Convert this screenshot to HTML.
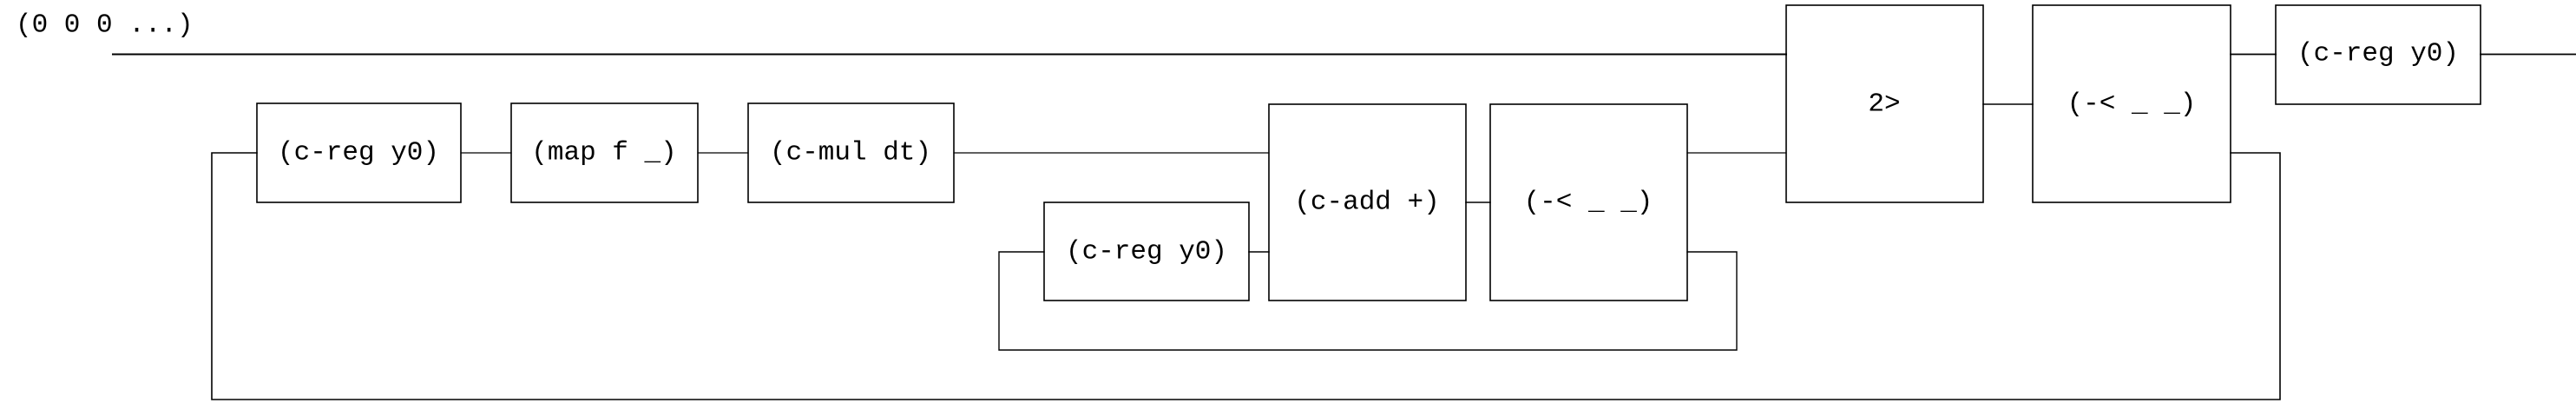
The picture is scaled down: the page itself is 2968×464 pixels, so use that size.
<!DOCTYPE html>
<html><head><meta charset="utf-8"><style>
html,body{margin:0;padding:0;background:#fff;}
svg{display:block;}
text{font-family:"Liberation Mono","DejaVu Sans Mono",monospace;font-size:31px;fill:#000;}
</style></head><body>
<svg width="2968" height="464" viewBox="0 0 2968 464" xmlns="http://www.w3.org/2000/svg">
<g fill="none" stroke="#000" stroke-linecap="square">
<!-- top main line -->
<path d="M130 62.5 H2058" stroke-width="2"/>
<!-- middle chain line -->
<path d="M531 176 H589 M804 176 H862 M1099 176 H1462" stroke-width="1.2"/>
<path d="M1944 176 H2058" stroke-width="1.2"/>
<!-- outer loop -->
<path d="M296 176 H244 V460 H2627 V176 H2570" stroke-width="1.6"/>
<!-- inner loop -->
<path d="M1203 290 H1151 V403 H2001 V290 H1944" stroke-width="1.4"/>
<path d="M1439 290 H1462" stroke-width="1.6"/>
<path d="M1689 233 H1717" stroke-width="1.6"/>
<path d="M2285 120 H2342" stroke-width="1.6"/>
<path d="M2570 62.5 H2622 M2858 62.5 H2968" stroke-width="1.8"/>
<!-- boxes -->
<g stroke-width="1.6">
<rect x="296" y="119" width="235" height="114"/>
<rect x="589" y="119" width="215" height="114"/>
<rect x="862" y="119" width="237" height="114"/>
<rect x="1203" y="233" width="236" height="113"/>
<rect x="1462" y="120" width="227" height="226"/>
<rect x="1717" y="120" width="227" height="226"/>
<rect x="2058" y="6" width="227" height="227"/>
<rect x="2342" y="6" width="228" height="227"/>
<rect x="2622" y="6" width="236" height="114"/>
</g>
</g>
<text x="18" y="29" dominant-baseline="central">(0 0 0 ...)</text>
<g text-anchor="middle" dominant-baseline="central">
<text x="413" y="176">(c-reg y0)</text>
<text x="696" y="176">(map f _)</text>
<text x="980" y="176">(c-mul dt)</text>
<text x="1321" y="290">(c-reg y0)</text>
<text x="1575" y="233">(c-add +)</text>
<text x="1830" y="233">(-&lt; _ _)</text>
<text x="2171" y="120">2&gt;</text>
<text x="2456" y="120">(-&lt; _ _)</text>
<text x="2740" y="62">(c-reg y0)</text>
</g>
</svg>
</body></html>
